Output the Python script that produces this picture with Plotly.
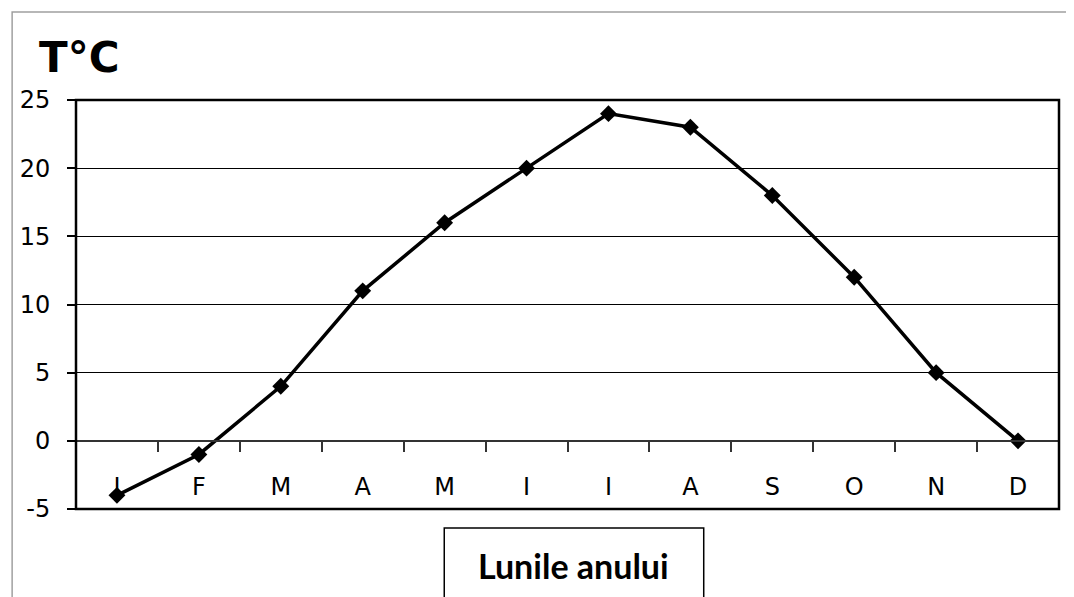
import plotly.graph_objects as go

months = ["I", "F", "M", "A", "M", "I", "I", "A", "S", "O", "N", "D"]
temps = [-4, -1, 4, 11, 16, 20, 24, 23, 18, 12, 5, 0]
y_ticks = [-5, 0, 5, 10, 15, 20, 25]
y_tick_text = ["-5", "0", "5", "10", "15", "20", "25"]
y_title = "T°C"
x_title = "Lunile anului"

xs = list(range(len(months)))
boundaries = [i + 0.5 for i in range(len(months) - 1)]

OFF = 8  # page body margin
W, H = 1074 - OFF, 597 - OFF
# target pixel geometry in the screenshot
L, R, T, B = 74, 1059, 100, 509
ml, mt = L - OFF, T - OFF
mr = W - (R - OFF)
mb = H - (B - OFF)
pw, ph = R - L, B - T

def px_x(p):
    return (p - L) / pw

def px_y(p):
    return (B - p) / ph

fig = go.Figure()
fig.add_trace(go.Scatter(
    x=xs, y=temps, mode="lines+markers",
    line=dict(color="black", width=3.5),
    marker=dict(symbol="diamond", size=13, color="black"),
    hoverinfo="skip", showlegend=False, cliponaxis=False,
))

tick_font = dict(family="DejaVu Sans", size=24, color="black")

fig.update_layout(
    width=W, height=H,
    margin=dict(l=ml, r=mr, t=mt, b=mb),
    paper_bgcolor="white", plot_bgcolor="white",
    xaxis=dict(
        range=[-0.5, len(months) - 0.5],
        tickvals=xs, ticktext=months,
        ticks="", showgrid=False, zeroline=False,
        showline=True, linecolor="#333333", linewidth=1.5,
        anchor="free", position=(0 - y_ticks[0]) / (y_ticks[-1] - y_ticks[0]),
        tickfont=tick_font, ticklabelstandoff=25,
        minor=dict(tickvals=boundaries, ticks="outside", ticklen=10,
                   tickwidth=1.5, tickcolor="#333333", showgrid=False),
        fixedrange=True,
    ),
    yaxis=dict(
        range=[y_ticks[0], y_ticks[-1]], domain=[0, 1],
        tickvals=y_ticks, ticktext=y_tick_text,
        ticks="outside", ticklen=8, tickwidth=1.5,
        tickcolor="black", showgrid=True, gridcolor="black", gridwidth=1,
        zeroline=False, showline=False,
        tickfont=tick_font, ticklabelstandoff=12,
        fixedrange=True,
    ),
    shapes=[
        # outer chart-area border (grey)
        dict(type="rect", xref="paper", yref="paper",
             x0=px_x(10), x1=px_x(1100), y0=px_y(640), y1=px_y(12),
             line=dict(color="#a0a0a0", width=1.5), layer="below"),
        # plot-area frame
        dict(type="rect", xref="x domain", yref="y domain",
             x0=0, x1=1, y0=0, y1=1,
             line=dict(color="black", width=2.5)),
        # axis-title box
        dict(type="rect", xref="paper", yref="paper",
             x0=px_x(443), x1=px_x(703), y0=px_y(620), y1=px_y(528),
             line=dict(color="black", width=1.5), fillcolor="white"),
    ],
    annotations=[
        dict(text=y_title, xref="paper", yref="paper",
             x=px_x(35), y=px_y(57), xanchor="left", yanchor="middle",
             showarrow=False,
             font=dict(family="DejaVu Sans", size=42, color="black", weight="bold")),
        dict(text=x_title, xref="paper", yref="paper",
             x=px_x(573), y=px_y(565), xanchor="center", yanchor="middle",
             showarrow=False,
             font=dict(family="Lato", size=34, color="black", weight="bold")),
    ],
)

fig.write_html("out.html")
